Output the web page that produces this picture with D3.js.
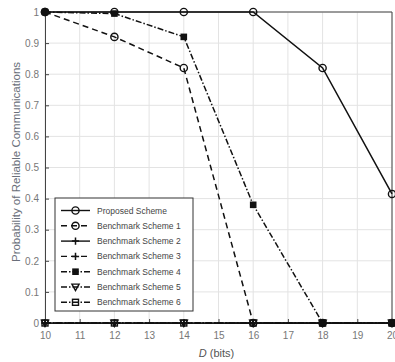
<!DOCTYPE html>
<html>
<head>
<meta charset="utf-8">
<script src="https://cdn.jsdelivr.net/npm/d3@7"></script>
<style>
  body { margin: 0; background: #fff; }
  svg { font-family: "Liberation Sans", Arial, sans-serif; }
</style>
</head>
<body>
<script>
// Data
const bits = [10, 12, 14, 16, 18, 20];
const proposed = [1, 1, 1, 1, 0.82, 0.415];
const bench1 = [1, 0.92, 0.82, 0, 0, 0];
const bench2 = [0, 0, 0, 0, 0, 0];
const bench3 = [0, 0, 0, 0, 0, 0];
const bench4 = [1, 0.995, 0.92, 0.38, 0, 0];
const bench5 = [0, 0, 0, 0, 0, 0];
const bench6 = [0, 0, 0, 0, 0, 0];
const xTicks = d3.range(10, 21, 1);
const yTicks = d3.range(0, 11).map(d => d / 10);

const series = [
  { name: 'Proposed Scheme', values: proposed, dash: null, marker: 'circle' },
  { name: 'Benchmark Scheme 1', values: bench1, dash: '6,4', marker: 'circle' },
  { name: 'Benchmark Scheme 2', values: bench2, dash: null, marker: 'plus' },
  { name: 'Benchmark Scheme 3', values: bench3, dash: '6,4', marker: 'plus' },
  { name: 'Benchmark Scheme 4', values: bench4, dash: '6,2,1.5,2', marker: 'filled' },
  { name: 'Benchmark Scheme 5', values: bench5, dash: '6,2,1.5,2', marker: 'triangle' },
  { name: 'Benchmark Scheme 6', values: bench6, dash: '6,2,1.5,2', marker: 'square' }
];

const W = 395, H = 362;
const margin = { left: 45, top: 12, right: 3, bottom: 39 };

const svg = d3.select('body').append('svg')
  .attr('width', W)
  .attr('height', H);

const x = d3.scaleLinear().domain([10, 20]).range([margin.left, W - margin.right]);
const y = d3.scaleLinear().domain([0, 1]).range([H - margin.bottom, margin.top]);

// Grid
svg.append('g').selectAll('line.vx')
  .data(xTicks).enter().append('line')
  .attr('x1', d => x(d)).attr('x2', d => x(d))
  .attr('y1', y(0)).attr('y2', y(1))
  .attr('stroke', '#e3e3e3').attr('stroke-width', 1);
svg.append('g').selectAll('line.hy')
  .data(yTicks).enter().append('line')
  .attr('x1', x(10)).attr('x2', x(20))
  .attr('y1', d => y(d)).attr('y2', d => y(d))
  .attr('stroke', '#e3e3e3').attr('stroke-width', 1);

// Axes
const xAxis = d3.axisBottom(x).tickValues(xTicks).tickSize(-4).tickPadding(9).tickFormat(d3.format('d'));
const yAxis = d3.axisLeft(y).tickValues(yTicks).tickSize(-4).tickPadding(6).tickFormat(d => d === 0 ? '0' : d === 1 ? '1' : d3.format('.1f')(d));

const gx = svg.append('g').attr('transform', `translate(0,${y(0)})`).call(xAxis);
const gy = svg.append('g').attr('transform', `translate(${x(10)},0)`).call(yAxis);
[gx, gy].forEach(g => {
  g.select('.domain').attr('stroke', '#444');
  g.selectAll('.tick line').attr('stroke', '#444');
  g.selectAll('.tick text').attr('fill', '#777').style('font-size', '10px');
});

// Frame top/right
svg.append('line').attr('x1', x(10)).attr('x2', x(20)).attr('y1', y(1)).attr('y2', y(1)).attr('stroke', '#444');
svg.append('line').attr('x1', x(20)).attr('x2', x(20)).attr('y1', y(0)).attr('y2', y(1)).attr('stroke', '#444');

// Labels
svg.append('text')
  .attr('transform', `translate(20,162) rotate(-90)`)
  .attr('text-anchor', 'middle')
  .attr('fill', '#6a6f7a')
  .style('font-size', '11.5px')
  .text('Probability of Reliable Communications');

const xl = svg.append('text')
  .attr('x', (x(10) + x(20)) / 2 - 2)
  .attr('y', 357)
  .attr('text-anchor', 'middle')
  .attr('fill', '#555')
  .style('font-size', '11px');
xl.append('tspan').style('font-style', 'italic').text('D');
xl.append('tspan').text(' (bits)');

// Markers
function drawMarker(g, type, cx, cy) {
  const s = 3.6;
  if (type === 'circle') {
    g.append('circle').attr('cx', cx).attr('cy', cy).attr('r', s)
      .attr('fill', 'none').attr('stroke', '#111').attr('stroke-width', 1.4);
  } else if (type === 'plus') {
    g.append('path').attr('d', `M${cx - s},${cy}H${cx + s}M${cx},${cy - s}V${cy + s}`)
      .attr('stroke', '#111').attr('stroke-width', 1.5);
  } else if (type === 'filled') {
    g.append('rect').attr('x', cx - 3.3).attr('y', cy - 3.3).attr('width', 6.6).attr('height', 6.6)
      .attr('fill', '#111');
  } else if (type === 'triangle') {
    g.append('path').attr('d', `M${cx - s},${cy - s * 0.8}H${cx + s}L${cx},${cy + s}Z`)
      .attr('fill', 'none').attr('stroke', '#111').attr('stroke-width', 1.4);
  } else if (type === 'square') {
    g.append('rect').attr('x', cx - 3).attr('y', cy - 3).attr('width', 6).attr('height', 6)
      .attr('fill', 'none').attr('stroke', '#111').attr('stroke-width', 1.4);
  }
}

const line = d3.line().x((d, i) => x(bits[i])).y(d => y(d));

series.forEach(s => {
  const g = svg.append('g');
  g.append('path')
    .attr('d', line(s.values))
    .attr('fill', 'none')
    .attr('stroke', '#111')
    .attr('stroke-width', 1.5)
    .attr('stroke-dasharray', s.dash);
  s.values.forEach((v, i) => drawMarker(g, s.marker, x(bits[i]), y(v)));
});

// Legend
const lg = svg.append('g').attr('transform', 'translate(55,198)');
lg.append('rect').attr('width', 138).attr('height', 113)
  .attr('fill', '#fff').attr('stroke', '#333').attr('stroke-width', 1);
series.forEach((s, i) => {
  const cy = 12.5 + i * 15.3;
  lg.append('line').attr('x1', 6).attr('x2', 35).attr('y1', cy).attr('y2', cy)
    .attr('stroke', '#111').attr('stroke-width', 1.4).attr('stroke-dasharray', s.dash);
  drawMarker(lg, s.marker, 20.5, cy);
  lg.append('text').attr('x', 42).attr('y', cy + 3)
    .attr('fill', '#444').style('font-size', '8.5px').text(s.name);
});
</script>
</body>
</html>
